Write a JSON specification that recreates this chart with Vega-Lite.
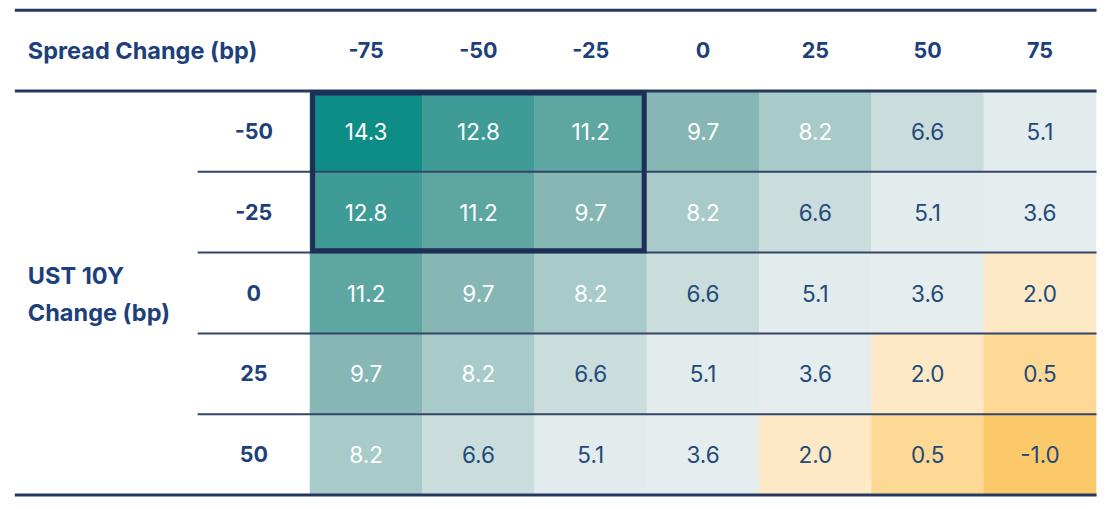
{
  "$schema": "https://vega.github.io/schema/vega-lite/v6.json",
  "width": 1108,
  "height": 509,
  "padding": 0,
  "autosize": {"type": "none"},
  "background": "#ffffff",
  "config": {
    "view": {"stroke": null},
    "font": "Inter",
    "locale": {
      "number": {"decimal": ".", "thousands": ",", "grouping": [3], "currency": ["$", ""], "minus": "-"},
      "time": {"dateTime": "%x, %X", "date": "%-m/%-d/%Y", "time": "%-I:%M:%S %p", "periods": ["AM", "PM"],
               "days": ["Sunday", "Monday", "Tuesday", "Wednesday", "Thursday", "Friday", "Saturday"],
               "shortDays": ["Sun", "Mon", "Tue", "Wed", "Thu", "Fri", "Sat"],
               "months": ["January", "February", "March", "April", "May", "June", "July", "August", "September", "October", "November", "December"],
               "shortMonths": ["Jan", "Feb", "Mar", "Apr", "May", "Jun", "Jul", "Aug", "Sep", "Oct", "Nov", "Dec"]}
    }
  },
  "datasets": {
    "cells": [
      {"ust": -50, "spread": -75, "value": 14.3},
      {"ust": -50, "spread": -50, "value": 12.8},
      {"ust": -50, "spread": -25, "value": 11.2},
      {"ust": -50, "spread": 0, "value": 9.7},
      {"ust": -50, "spread": 25, "value": 8.2},
      {"ust": -50, "spread": 50, "value": 6.6},
      {"ust": -50, "spread": 75, "value": 5.1},
      {"ust": -25, "spread": -75, "value": 12.8},
      {"ust": -25, "spread": -50, "value": 11.2},
      {"ust": -25, "spread": -25, "value": 9.7},
      {"ust": -25, "spread": 0, "value": 8.2},
      {"ust": -25, "spread": 25, "value": 6.6},
      {"ust": -25, "spread": 50, "value": 5.1},
      {"ust": -25, "spread": 75, "value": 3.6},
      {"ust": 0, "spread": -75, "value": 11.2},
      {"ust": 0, "spread": -50, "value": 9.7},
      {"ust": 0, "spread": -25, "value": 8.2},
      {"ust": 0, "spread": 0, "value": 6.6},
      {"ust": 0, "spread": 25, "value": 5.1},
      {"ust": 0, "spread": 50, "value": 3.6},
      {"ust": 0, "spread": 75, "value": 2.0},
      {"ust": 25, "spread": -75, "value": 9.7},
      {"ust": 25, "spread": -50, "value": 8.2},
      {"ust": 25, "spread": -25, "value": 6.6},
      {"ust": 25, "spread": 0, "value": 5.1},
      {"ust": 25, "spread": 25, "value": 3.6},
      {"ust": 25, "spread": 50, "value": 2.0},
      {"ust": 25, "spread": 75, "value": 0.5},
      {"ust": 50, "spread": -75, "value": 8.2},
      {"ust": 50, "spread": -50, "value": 6.6},
      {"ust": 50, "spread": -25, "value": 5.1},
      {"ust": 50, "spread": 0, "value": 3.6},
      {"ust": 50, "spread": 25, "value": 2.0},
      {"ust": 50, "spread": 50, "value": 0.5},
      {"ust": 50, "spread": 75, "value": -1.0}
    ],
    "outerEdges": [{"edge": -87.5}, {"edge": -62.5}, {"edge": 62.5}],
    "rowEdges": [{"edge": -37.5}, {"edge": -12.5}, {"edge": 12.5}, {"edge": 37.5}]
  },
  "resolve": {"scale": {"color": "independent"}},
  "layer": [
    {
      "data": {"name": "cells"},
      "mark": {"type": "point", "filled": true, "opacity": 1, "strokeWidth": 0,
               "shape": "M-1.004,-0.722H1.004V0.722H-1.004Z", "size": 12611},
      "encoding": {
        "x": {"field": "spread", "type": "quantitative", "axis": null,
              "scale": {"domain": [-156.5, 90.15], "nice": false, "zero": false}},
        "y": {"field": "ust", "type": "quantitative", "axis": null,
              "scale": {"domain": [-90.66, 66.83], "nice": false, "zero": false, "reverse": true}},
        "color": {"field": "value", "type": "quantitative", "legend": null,
                  "scale": {"type": "linear", "interpolate": "rgb",
                            "domain": [-1.0, 0.5, 2.0, 3.6, 5.1, 6.6, 8.2, 9.7, 11.2, 12.8, 14.3],
                            "range": ["#fcc96a", "#fdd995", "#fee9c6", "#e5edee", "#e3ecec", "#cadddc", "#a8cbc9", "#86b7b4", "#5da6a2", "#3f9b96", "#0d8d86"]}}
      }
    },
    {
      "data": {"name": "cells"},
      "mark": {"type": "text", "fontSize": 22.5, "font": "Inter", "baseline": "middle", "align": "center", "dy": 1.5},
      "encoding": {
        "x": {"field": "spread", "type": "quantitative"},
        "y": {"field": "ust", "type": "quantitative"},
        "text": {"field": "value", "type": "quantitative", "format": ".1f"},
        "color": {"condition": {"test": "datum.value >= 8", "value": "#ffffff"}, "value": "#22497a"}
      }
    },
    {
      "data": {"name": "cells"},
      "transform": [{"filter": "datum.ust == -50"}],
      "mark": {"type": "text", "fontSize": 21.5, "fontWeight": "bold", "font": "Inter", "baseline": "middle", "align": "center", "color": "#1d3f7b", "dy": 1.5},
      "encoding": {
        "x": {"field": "spread", "type": "quantitative"},
        "y": {"datum": -75},
        "text": {"field": "spread", "type": "quantitative", "format": "d"}
      }
    },
    {
      "data": {"name": "cells"},
      "transform": [{"filter": "datum.spread == -75"}],
      "mark": {"type": "text", "fontSize": 21.5, "fontWeight": "bold", "font": "Inter", "baseline": "middle", "align": "center", "color": "#1d3f7b", "dy": 1.5},
      "encoding": {
        "x": {"datum": -100},
        "y": {"field": "ust", "type": "quantitative"},
        "text": {"field": "ust", "type": "quantitative", "format": "d"}
      }
    },
    {
      "data": {"values": [{"label": "Spread Change (bp)"}]},
      "mark": {"type": "text", "fontSize": 23.5, "fontWeight": "bold", "font": "Inter", "baseline": "middle", "align": "left", "color": "#1d3f7b", "dy": 1.5},
      "encoding": {
        "x": {"datum": -150.3},
        "y": {"datum": -75},
        "text": {"field": "label"}
      }
    },
    {
      "data": {"values": [{"label": ["UST 10Y", "Change (bp)"]}]},
      "mark": {"type": "text", "fontSize": 23.5, "fontWeight": "bold", "font": "Inter", "baseline": "middle", "align": "left", "color": "#1d3f7b", "lineHeight": 37},
      "encoding": {
        "x": {"datum": -150.3},
        "y": {"datum": -5.0},
        "text": {"field": "label"}
      }
    },
    {
      "data": {"name": "rowEdges"},
      "mark": {"type": "rule", "color": "#34456a", "strokeWidth": 2},
      "encoding": {
        "y": {"field": "edge", "type": "quantitative"},
        "x": {"datum": -112.5},
        "x2": {"datum": 87.6}
      }
    },
    {
      "data": {"name": "outerEdges"},
      "mark": {"type": "rule", "color": "#25385f", "strokeWidth": 3},
      "encoding": {
        "y": {"field": "edge", "type": "quantitative"},
        "x": {"datum": -153.2},
        "x2": {"datum": 87.6}
      }
    },
    {
      "data": {"values": [{"block": "highlight"}]},
      "mark": {"type": "rect", "fillOpacity": 0, "stroke": "#1d2f57", "strokeWidth": 5},
      "encoding": {
        "x": {"datum": -86.9},
        "x2": {"datum": -13.1},
        "y": {"datum": -61.9},
        "y2": {"datum": -13.1}
      }
    }
  ]
}
